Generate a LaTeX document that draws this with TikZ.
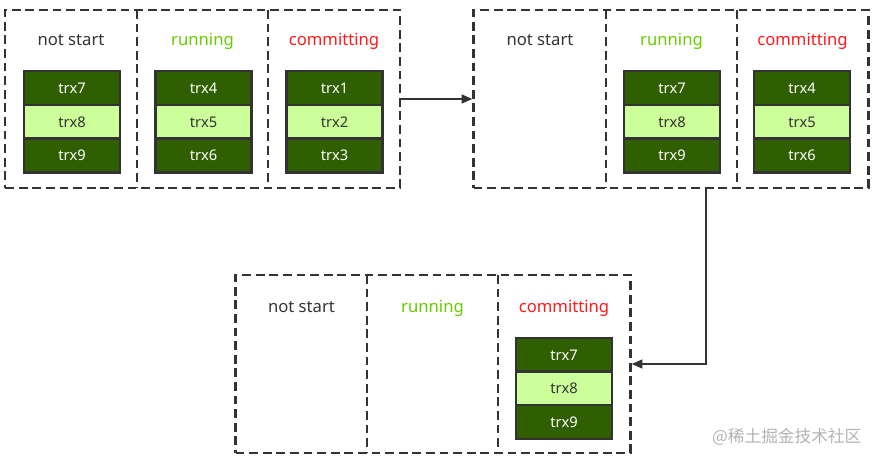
\documentclass[tikz,border=0pt]{standalone}
\usepackage{fontspec}
\setmainfont{Noto Sans}
\newfontfamily\cjk{Noto Sans CJK SC}
\usetikzlibrary{arrows.meta}
\definecolor{darkg}{HTML}{2F5F00}
\definecolor{lightg}{HTML}{CCFF99}
\definecolor{edge}{HTML}{333333}
\definecolor{runc}{HTML}{66CC00}
\definecolor{comc}{HTML}{FF1A1A}
\definecolor{txtc}{HTML}{333333}
\tikzset{
  grp/.style={draw=edge, line width=1.9pt, dash pattern=on 6.6pt off 3.6pt, minimum width=296pt, minimum height=133.5pt, inner sep=0pt},
  divider/.style={draw=edge, line width=1.9pt, dash pattern=on 6.6pt off 3.6pt},
  title/.style={font=\fontsize{12.5}{14}\selectfont, text=txtc, anchor=base},
  cell/.style={draw=edge, line width=1.9pt, minimum width=72pt, minimum height=25.2pt, inner sep=0pt, font=\fontsize{11}{12}\selectfont},
  dcell/.style={cell, fill=darkg, text=white},
  lcell/.style={cell, fill=lightg, text=txtc},
  arr/.style={draw=edge, line width=1.6pt, -{Triangle[length=8pt,width=6.5pt]}},
}
\begin{document}
\begin{tikzpicture}[x=0.75pt,y=-0.75pt]
\useasboundingbox (0,0) rectangle (878,464);
% group 1
\node[grp] (g1) at (202.5,99) {};
\draw[divider] (137,10) -- (137,188);
\draw[divider] (268,10) -- (268,188);
\node[title] (g1t1) at (71,45) {not start};
\node[title, text=runc] (g1t2) at (202.5,45) {running};
\node[title, text=comc] (g1t3) at (334,45) {committing};
\node[dcell] (a7) at (72,88) {trx7};
\node[lcell] (a8) at (72,122) {trx8};
\node[dcell] (a9) at (72,155.5) {trx9};
\node[dcell] (a4) at (203.5,88) {trx4};
\node[lcell] (a5) at (203.5,122) {trx5};
\node[dcell] (a6) at (203.5,155.5) {trx6};
\node[dcell] (a1) at (334.5,88) {trx1};
\node[lcell] (a2) at (334.5,122) {trx2};
\node[dcell] (a3) at (334.5,155.5) {trx3};
% group 2
\node[grp] (g2) at (671,99) {};
\draw[divider] (606,10) -- (606,188);
\draw[divider] (737,10) -- (737,188);
\node[title] (g2t1) at (540,45) {not start};
\node[title, text=runc] (g2t2) at (671.5,45) {running};
\node[title, text=comc] (g2t3) at (802.5,45) {committing};
\node[dcell] (b7) at (672,88) {trx7};
\node[lcell] (b8) at (672,122) {trx8};
\node[dcell] (b9) at (672,155.5) {trx9};
\node[dcell] (b4) at (802,88) {trx4};
\node[lcell] (b5) at (802,122) {trx5};
\node[dcell] (b6) at (802,155.5) {trx6};
% group 3
\node[grp] (g3) at (433,364) {};
\draw[divider] (367,275) -- (367,453);
\draw[divider] (498,275) -- (498,453);
\node[title] (g3t1) at (301.5,312) {not start};
\node[title, text=runc] (g3t2) at (432.5,312) {running};
\node[title, text=comc] (g3t3) at (564,312) {committing};
\node[dcell] (c7) at (564,355) {trx7};
\node[lcell] (c8) at (564,388.5) {trx8};
\node[dcell] (c9) at (564,422) {trx9};
% connectors
\draw[arr] (g1.east) -- (g2.west);
\coordinate (turn) at (706,364);
\draw[arr] (turn |- g2.south) -- (turn) -- (g3.east);
% watermark
\node[font=\cjk\fontsize{12.5}{14}\selectfont, text=gray!60, anchor=east] (wm) at (866,437) {@稀土掘金技术社区};
\end{tikzpicture}
\end{document}
